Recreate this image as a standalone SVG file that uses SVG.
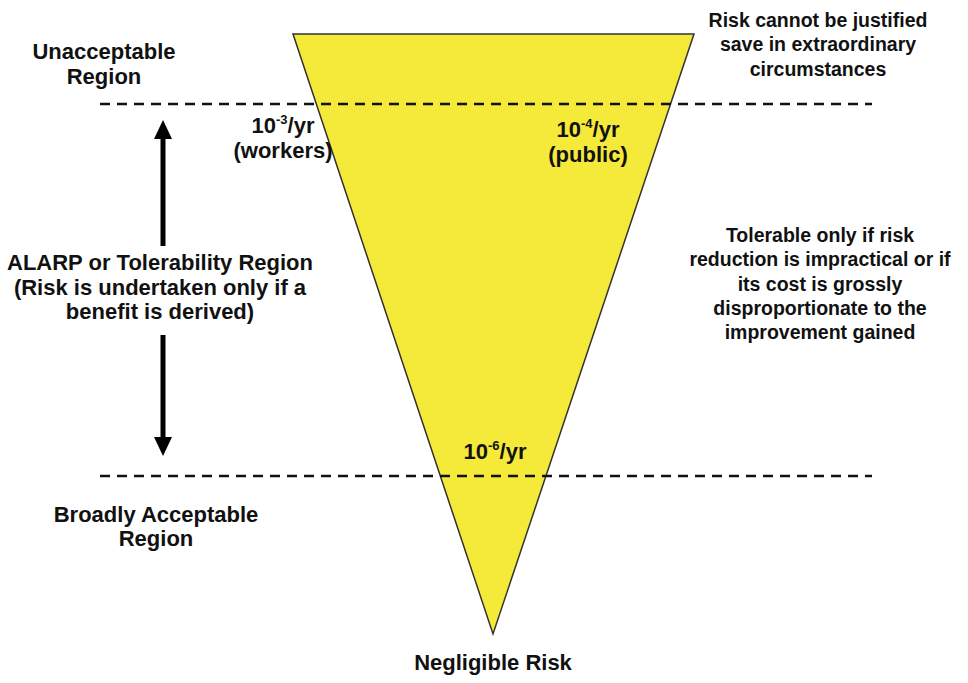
<svg xmlns="http://www.w3.org/2000/svg" width="968" height="683" viewBox="0 0 968 683">
<defs>
<style>
text{font-family:"Liberation Sans",Arial,sans-serif;font-weight:bold;font-size:22px;fill:#111;text-anchor:middle}
text.r{font-size:19.5px}
.dash{stroke:#111;stroke-width:2.5;stroke-dasharray:10 7;fill:none}
.shaft{stroke:#000;stroke-width:5;fill:none}
.head{fill:#000}
.sup{font-size:13px}
</style>
</defs>
<rect width="968" height="683" fill="#fff"/>
<g id="triangle">
<polygon points="293,34 694,34 493,634" fill="#f5e93a" stroke="#333" stroke-width="1.5"/>
</g>
<g id="connectors">
<line class="dash" x1="100" y1="104" x2="872" y2="104"/>
<line class="dash" x1="100" y1="476" x2="872" y2="476"/>
<line class="shaft" x1="163" y1="246" x2="163" y2="134"/>
<polygon class="head" points="163,120 172,139 154,139"/>
<line class="shaft" x1="163" y1="335" x2="163" y2="442"/>
<polygon class="head" points="163,456 172,437 154,437"/>
</g>
<g id="unacceptable">
<text x="104" y="59">Unacceptable</text>
<text x="104" y="84">Region</text>
</g>
<g id="justified">
<text class="r" x="818" y="27">Risk cannot be justified</text>
<text class="r" x="818" y="51">save in extraordinary</text>
<text class="r" x="818" y="76">circumstances</text>
</g>
<g id="workers">
<text x="283" y="133">10<tspan class="sup" dy="-9">-3</tspan><tspan dy="9">/yr</tspan></text>
<text x="283" y="158">(workers)</text>
</g>
<g id="public">
<text x="588" y="137">10<tspan class="sup" dy="-9">-4</tspan><tspan dy="9">/yr</tspan></text>
<text x="588" y="162">(public)</text>
</g>
<g id="alarp">
<text x="160" y="270">ALARP or Tolerability Region</text>
<text x="160" y="295">(Risk is undertaken only if a</text>
<text x="160" y="319">benefit is derived)</text>
</g>
<g id="tolerable">
<text class="r" x="820" y="242">Tolerable only if risk</text>
<text class="r" x="820" y="266">reduction is impractical or if</text>
<text class="r" x="820" y="291">its cost is grossly</text>
<text class="r" x="820" y="315">disproportionate to the</text>
<text class="r" x="820" y="339">improvement gained</text>
</g>
<g id="negligible6">
<text x="495" y="459">10<tspan class="sup" dy="-9">-6</tspan><tspan dy="9">/yr</tspan></text>
</g>
<g id="broadly">
<text x="156" y="522">Broadly Acceptable</text>
<text x="156" y="546">Region</text>
</g>
<g id="negligible">
<text x="493" y="670">Negligible Risk</text>
</g>
</svg>
